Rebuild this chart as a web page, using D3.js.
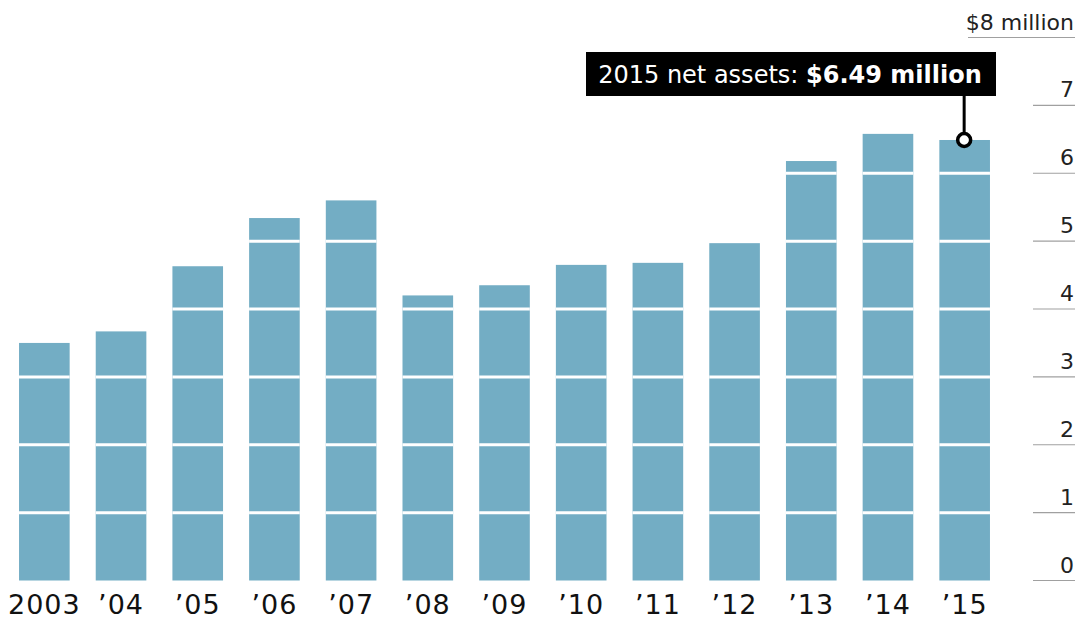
<!DOCTYPE html>
<html>
<head>
<meta charset="utf-8">
<script src="https://cdn.jsdelivr.net/npm/d3@7"></script>
<style>
  body { margin: 0; background: #fff; }
  svg text { font-family: "DejaVu Sans", "Noto Sans", sans-serif; }
</style>
</head>
<body>
<svg id="chart" width="1077" height="619"></svg>
<script>
var years = ['2003', '\u201904', '\u201905', '\u201906', '\u201907', '\u201908', '\u201909', '\u201910', '\u201911', '\u201912', '\u201913', '\u201914', '\u201915'];
var netAssets = [3.50, 3.67, 4.63, 5.34, 5.60, 4.20, 4.35, 4.65, 4.68, 4.97, 6.18, 6.58, 6.49];
var yTicks = [0, 1, 2, 3, 4, 5, 6, 7, 8];

var width = 1077;
var height = 619;
var barColor = '#73adc4';

var svg = d3.select('#chart');

var x = d3.scaleBand()
  .domain(years)
  .range([6, 1003])
  .paddingInner(0.34)
  .paddingOuter(0.17);

var y = d3.scaleLinear()
  .domain([0, 8])
  .range([580.5, 37.5]);

// y axis: gray rules at right with labels sitting on them
var axis = svg.append('g');
axis.selectAll('line')
  .data(yTicks)
  .enter()
  .append('line')
  .attr('x1', function (d) { return d === 8 ? 968 : 1033; })
  .attr('x2', 1075)
  .attr('y1', function (d) { return y(d); })
  .attr('y2', function (d) { return y(d); })
  .attr('stroke', '#a0a0a0')
  .attr('stroke-width', 1.2);

axis.selectAll('text')
  .data(yTicks)
  .enter()
  .append('text')
  .attr('x', 1074)
  .attr('y', function (d) { return y(d) - 8; })
  .attr('text-anchor', 'end')
  .attr('font-size', 22)
  .attr('fill', '#222')
  .text(function (d) { return d === 8 ? '$8 million' : d; });

// bars
var bars = svg.append('g');
bars.selectAll('rect')
  .data(netAssets)
  .enter()
  .append('rect')
  .attr('x', function (d, i) { return x(years[i]); })
  .attr('width', x.bandwidth())
  .attr('y', function (d) { return y(d); })
  .attr('height', function (d) { return y(0) - y(d); })
  .attr('fill', barColor);

// white separators at each whole million inside the bars
netAssets.forEach(function (v, i) {
  var marks = yTicks.filter(function (t) { return t > 0 && t < v; });
  bars.selectAll(null)
    .data(marks)
    .enter()
    .append('line')
    .attr('x1', x(years[i]))
    .attr('x2', x(years[i]) + x.bandwidth())
    .attr('y1', function (t) { return y(t); })
    .attr('y2', function (t) { return y(t); })
    .attr('stroke', '#fff')
    .attr('stroke-width', 3);
});

// year labels
svg.append('g')
  .selectAll('text')
  .data(years)
  .enter()
  .append('text')
  .attr('x', function (d) { return x(d) + x.bandwidth() / 2; })
  .attr('y', 614)
  .attr('text-anchor', 'middle')
  .attr('font-size', 27)
  .attr('letter-spacing', 1)
  .attr('fill', '#111')
  .text(function (d) { return d; });

// callout for 2015
var last = netAssets.length - 1;
var cx = x(years[last]) + x.bandwidth() / 2 - 0.5;
var cy = y(netAssets[last]);

var callout = svg.append('g');
callout.append('line')
  .attr('x1', cx)
  .attr('x2', cx)
  .attr('y1', 95)
  .attr('y2', cy)
  .attr('stroke', '#000')
  .attr('stroke-width', 3);

callout.append('rect')
  .attr('x', 586)
  .attr('y', 52)
  .attr('width', 410)
  .attr('height', 44)
  .attr('fill', '#000');

var label = callout.append('text')
  .attr('x', 790)
  .attr('y', 83)
  .attr('text-anchor', 'middle')
  .attr('font-size', 24)
  .attr('fill', '#fff');
label.append('tspan').text('2015 net assets: ');
label.append('tspan').attr('font-weight', 'bold').text('$6.49 million');

callout.append('circle')
  .attr('cx', cx)
  .attr('cy', cy)
  .attr('r', 6.5)
  .attr('fill', '#fff')
  .attr('stroke', '#000')
  .attr('stroke-width', 3.5);
</script>
</body>
</html>
